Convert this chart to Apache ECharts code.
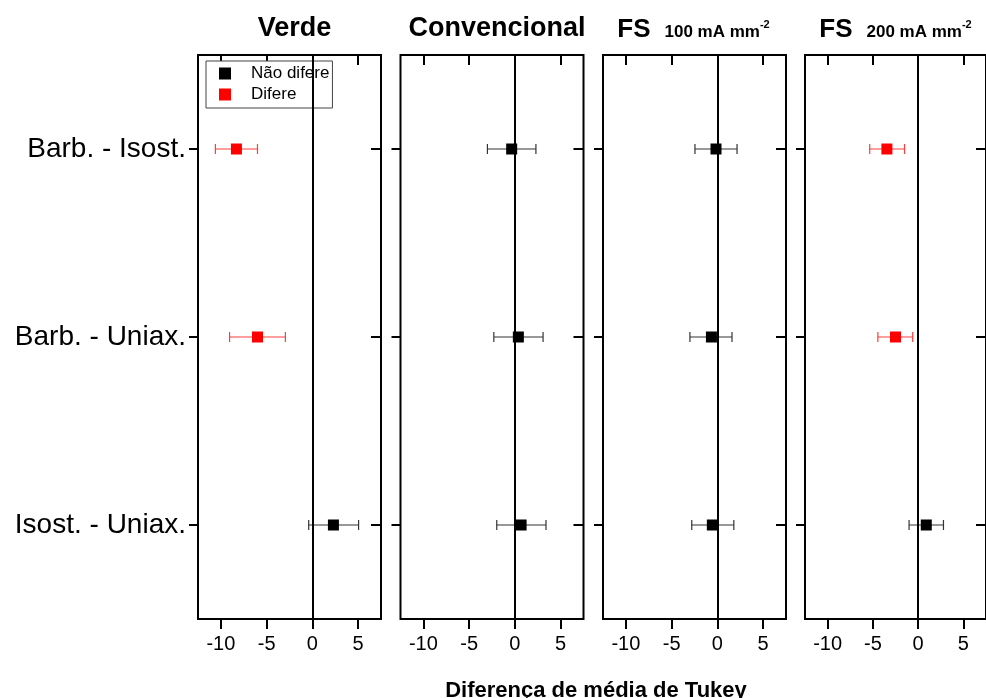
<!DOCTYPE html>
<html>
<head>
<meta charset="utf-8">
<script src="https://cdn.jsdelivr.net/npm/echarts@6/dist/echarts.min.js"></script>
<style>html,body{margin:0;padding:0;background:#fff;}#c{width:986px;height:698px;}</style>
</head>
<body>
<div id="c"></div>
<script>
const categories = ['Barb. - Isost.', 'Barb. - Uniax.', 'Isost. - Uniax.'];
const categoryPositions = [0, 1, 2];
const xTicks = [-10, -5, 0, 5];
const legendNames = ['Não difere', 'Difere'];

const verdeMean = [-8.3, -6.0, 2.3];
const verdeLow = [-10.6, -9.05, -0.4];
const verdeHigh = [-6.0, -2.95, 5.05];
const verdeDiffers = [1, 1, 0];

const convMean = [-0.35, 0.38, 0.68];
const convLow = [-3.0, -2.3, -1.98];
const convHigh = [2.3, 3.08, 3.4];
const convDiffers = [0, 0, 0];

const fs100Mean = [-0.15, -0.65, -0.55];
const fs100Low = [-2.45, -3.0, -2.8];
const fs100High = [2.15, 1.6, 1.8];
const fs100Differs = [0, 0, 0];

const fs200Mean = [-3.45, -2.5, 0.9];
const fs200Low = [-5.35, -4.45, -1.0];
const fs200High = [-1.5, -0.6, 2.8];
const fs200Differs = [1, 1, 0];

const panels = [
  {title: 'Verde', mean: verdeMean, low: verdeLow, high: verdeHigh, differs: verdeDiffers, rich: false},
  {title: 'Convencional', mean: convMean, low: convLow, high: convHigh, differs: convDiffers, rich: false},
  {title: '{a|FS}{b|100 mA mm}{c|-2}', mean: fs100Mean, low: fs100Low, high: fs100High, differs: fs100Differs, rich: true},
  {title: '{a|FS}{b|200 mA mm}{c|-2}', mean: fs200Mean, low: fs200Low, high: fs200High, differs: fs200Differs, rich: true}
];

const FONT = 'Liberation Sans, Arial, sans-serif';
const gridLeft = [198, 400.5, 603, 805];
const gridWidth = 183;
const gridTop = 55;
const gridHeight = 564;

const grids = [], xAxes = [], yAxes = [], series = [], titles = [];

panels.forEach((p, i) => {
  grids.push({left: gridLeft[i], top: gridTop, width: gridWidth, height: gridHeight,
    show: true, borderColor: '#000', borderWidth: 2, containLabel: false});
  const xBase = {type: 'value', min: -12.5, max: 7.5, gridIndex: i,
    axisLine: {show: false, onZero: false}, splitLine: {show: false}};
  xAxes.push(Object.assign({}, xBase, {position: 'bottom',
    axisTick: {show: true, inside: false, length: 10, customValues: xTicks, lineStyle: {color: '#000', width: 2}},
    axisLabel: {show: true, customValues: xTicks, fontSize: 20, color: '#000', fontFamily: FONT, margin: 15}}));
  xAxes.push(Object.assign({}, xBase, {position: 'top',
    axisTick: {show: true, inside: true, length: 10, customValues: xTicks, lineStyle: {color: '#000', width: 2}},
    axisLabel: {show: false, customValues: xTicks}}));
  const yBase = {type: 'value', min: -0.5, max: 2.5, inverse: true, gridIndex: i,
    axisLine: {show: false, onZero: false}, splitLine: {show: false}};
  yAxes.push(Object.assign({}, yBase, {position: 'left',
    axisTick: {show: true, inside: false, length: 9, customValues: categoryPositions, lineStyle: {color: '#000', width: 2}},
    axisLabel: {show: i === 0, customValues: categoryPositions, fontSize: 28, color: '#000', fontFamily: FONT, margin: 12,
      formatter: v => categories[Math.round(v)]}}));
  yAxes.push(Object.assign({}, yBase, {position: 'right',
    axisTick: {show: true, inside: true, length: 10, customValues: categoryPositions, lineStyle: {color: '#000', width: 2}},
    axisLabel: {show: false, customValues: categoryPositions}}));

  titles.push({text: p.title, left: gridLeft[i] + gridWidth / 2 - (p.rich ? 6 : 0), top: p.rich ? 9 : 10, textAlign: 'center',
    textStyle: {fontSize: 27, fontWeight: 'bold', color: '#000', fontFamily: FONT,
      rich: {
        a: {fontSize: 26, fontWeight: 'bold', fontFamily: FONT, color: '#000', lineHeight: 29, verticalAlign: 'bottom'},
        b: {fontSize: 17, fontWeight: 'bold', fontFamily: FONT, color: '#000', lineHeight: 19, verticalAlign: 'bottom', padding: [0, 0, 2, 14]},
        c: {fontSize: 11, fontWeight: 'bold', fontFamily: FONT, color: '#000', lineHeight: 12, verticalAlign: 'top', padding: [5, 0, 0, 0]}
      }}});

  const errData = categoryPositions.map(k => [p.low[k], p.high[k], k, p.differs[k]]);
  series.push({type: 'custom', xAxisIndex: 2 * i, yAxisIndex: 2 * i, z: 2, silent: true,
    encode: {x: [0, 1], y: 2},
    data: errData,
    renderItem: function (params, api) {
      const a = api.coord([api.value(0), api.value(2)]);
      const b = api.coord([api.value(1), api.value(2)]);
      const col = api.value(3) ? 'rgba(255,40,40,0.9)' : '#333';
      const st = {stroke: col, lineWidth: 1.2, fill: null};
      const h = 5;
      return {type: 'group', children: [
        {type: 'line', shape: {x1: a[0], y1: a[1], x2: b[0], y2: b[1]}, style: st},
        {type: 'line', shape: {x1: a[0], y1: a[1] - h, x2: a[0], y2: a[1] + h}, style: st},
        {type: 'line', shape: {x1: b[0], y1: b[1] - h, x2: b[0], y2: b[1] + h}, style: st}
      ]};
    },
    markLine: {silent: true, symbol: 'none', label: {show: false}, animation: false,
      lineStyle: {color: '#000', width: 2, type: 'solid'}, data: [{xAxis: 0}]}
  });
  series.push({type: 'scatter', name: legendNames[0], xAxisIndex: 2 * i, yAxisIndex: 2 * i, z: 3,
    symbol: 'rect', symbolSize: 11, itemStyle: {color: '#000', opacity: 1},
    data: categoryPositions.filter(k => !p.differs[k]).map(k => [p.mean[k], k])});
  series.push({type: 'scatter', name: legendNames[1], xAxisIndex: 2 * i, yAxisIndex: 2 * i, z: 3,
    symbol: 'rect', symbolSize: 11, itemStyle: {color: '#ff0000', opacity: 1},
    data: categoryPositions.filter(k => p.differs[k]).map(k => [p.mean[k], k])});
});

titles.push({text: 'Diferença de média de Tukey', left: 591, top: 675, textAlign: 'center',
  textStyle: {fontSize: 22, fontWeight: 'bold', color: '#000', fontFamily: FONT}});

const chart = echarts.init(document.getElementById('c'), null, {renderer: 'canvas'});
chart.setOption({
  animation: false,
  backgroundColor: '#fff',
  title: titles,
  legend: {data: legendNames, orient: 'vertical', left: 206, top: 61, padding: [4, 3, 5, 13],
    itemWidth: 12, itemHeight: 12, itemGap: 4, icon: 'rect', selectedMode: false,
    borderColor: '#444', borderWidth: 1, backgroundColor: '#fff',
    textStyle: {fontSize: 17, color: '#000', fontFamily: FONT, padding: [0, 0, 0, 15]}},
  grid: grids,
  xAxis: xAxes,
  yAxis: yAxes,
  series: series
});
</script>
</body>
</html>
